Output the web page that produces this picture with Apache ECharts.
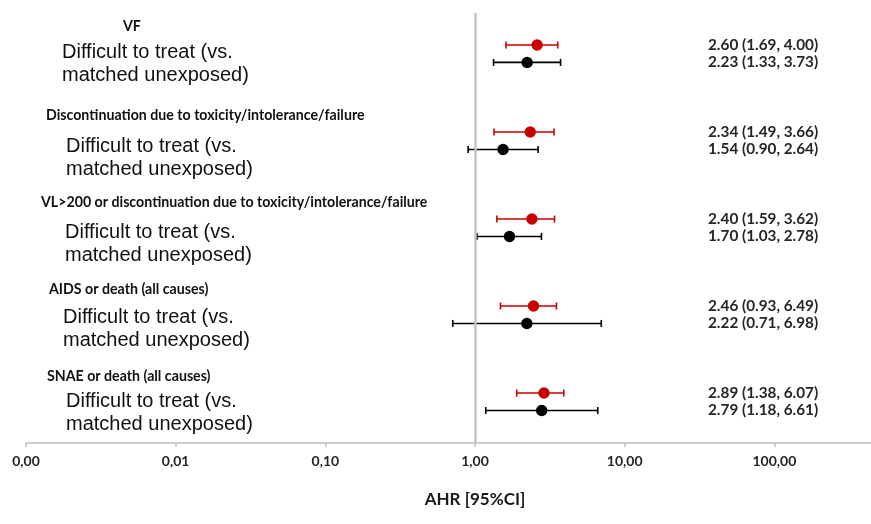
<!DOCTYPE html>
<html>
<head>
<meta charset="utf-8">
<script src="https://cdn.jsdelivr.net/npm/echarts@6/dist/echarts.min.js"></script>
<style>
  html, body { margin: 0; padding: 0; background: #fff; }
  #chart { width: 871px; height: 524px; }
</style>
</head>
<body>
<div id="chart"></div>
<script>
// outcomes, top to bottom
var outcomes = [
  'VF',
  'Discontinuation due to toxicity/intolerance/failure',
  'VL>200 or discontinuation due to toxicity/intolerance/failure',
  'AIDS or death (all causes)',
  'SNAE or death (all causes)'
]
var comparison = 'Difficult to treat (vs.\nmatched unexposed)'

// red rows (upper of each pair) - as drawn
var redHR = [2.60, 2.34, 2.40, 2.46, 2.89]
var redLow = [1.61, 1.34, 1.40, 1.48, 1.90]
var redHigh = [3.57, 3.37, 3.40, 3.50, 3.92]
var redText = ['2.60 (1.69, 4.00)', '2.34 (1.49, 3.66)', '2.40 (1.59, 3.62)', '2.46 (0.93, 6.49)', '2.89 (1.38, 6.07)']

// black rows (lower of each pair)
var blackHR = [2.23, 1.54, 1.70, 2.22, 2.79]
var blackLow = [1.33, 0.90, 1.03, 0.71, 1.18]
var blackHigh = [3.73, 2.64, 2.78, 6.98, 6.61]
var blackText = ['2.23 (1.33, 3.73)', '1.54 (0.90, 2.64)', '1.70 (1.03, 2.78)', '2.22 (0.71, 6.98)', '2.79 (1.18, 6.61)']

var xTicks = [0.001, 0.01, 0.1, 1, 10, 100]

// layout of the left-hand text (pixels)
var headTop = [27, 116, 203, 290, 377]
var headLeft = [123, 46, 41, 49, 47]
var subTop = [52, 146, 232, 317, 401]
var subLeft = [62, 66, 65, 63, 66]

var chart = echarts.init(document.getElementById('chart'), null, { renderer: 'canvas' })

function rows(hr, low, high, offset) {
  return hr.map(function (v, i) {
    return [low[i], high[i], v, i * 5 + offset]
  })
}

function renderBar(color, texts) {
  return function (params, api) {
    var lo = api.coord([api.value(0), api.value(3)])
    var hi = api.coord([api.value(1), api.value(3)])
    var mid = api.coord([api.value(2), api.value(3)])
    var y = mid[1]
    var lineStyle = { stroke: color, lineWidth: 1.6 }
    return {
      type: 'group',
      children: [
        { type: 'line', shape: { x1: lo[0], y1: y, x2: hi[0], y2: y }, style: lineStyle },
        { type: 'line', shape: { x1: lo[0], y1: y - 3.5, x2: lo[0], y2: y + 3.5 }, style: lineStyle },
        { type: 'line', shape: { x1: hi[0], y1: y - 3.5, x2: hi[0], y2: y + 3.5 }, style: lineStyle },
        { type: 'circle', shape: { cx: mid[0], cy: y, r: 5.7 }, style: { fill: color } },
        {
          type: 'text',
          x: 708,
          y: y,
          style: {
            text: texts[params.dataIndex],
            align: 'left', verticalAlign: 'middle',
            textAlign: 'left', textVerticalAlign: 'middle',
            font: 'bold 15.3px Lato',
            fill: '#262626'
          }
        }
      ]
    }
  }
}

var graphics = []
outcomes.forEach(function (name, i) {
  graphics.push({
    type: 'text',
    left: headLeft[i],
    top: headTop[i] - 8,
    style: { text: name, font: 'bold 14.2px Lato', fill: '#111' }
  })
  graphics.push({
    type: 'text',
    left: subLeft[i],
    top: subTop[i] - 11,
    style: { text: comparison, font: '20px "Liberation Sans"', fill: '#111', lineHeight: 23 }
  })
})

var option = {
  backgroundColor: '#fff',
  animation: false,
  grid: { left: 26, right: -53, top: 13, bottom: 81, outerBoundsMode: 'none' },
  xAxis: {
    type: 'log',
    logBase: 10,
    min: 0.001,
    max: 1000,
    name: 'AHR [95%CI]',
    nameLocation: 'middle',
    nameGap: 48,
    nameTextStyle: { fontFamily: 'Lato', fontWeight: 'bold', fontSize: 17, color: '#1a1a1a' },
    axisLine: { onZero: false, lineStyle: { color: '#bfbfbf', width: 1.5 } },
    axisTick: { length: 4, lineStyle: { color: '#bfbfbf', width: 1.5 } },
    axisLabel: {
      margin: 11,
      fontFamily: 'Lato', fontWeight: 'bold', fontSize: 14, color: '#262626',
      formatter: function (v) {
        if (xTicks.indexOf(Number(v.toPrecision(6))) < 0) return ''
        return v.toFixed(2).replace('.', ',')
      }
    },
    splitLine: { show: false }
  },
  yAxis: {
    type: 'value',
    inverse: true,
    min: -1.84,
    max: 22.87,
    show: false
  },
  graphic: graphics,
  series: [
    {
      type: 'custom',
      name: 'red',
      renderItem: renderBar('#c80000', redText),
      encode: { x: [0, 1, 2], y: 3 },
      data: rows(redHR, redLow, redHigh, 0),
      markLine: {
        silent: true,
        symbol: 'none',
        label: { show: false },
        lineStyle: { color: '#c4c4c4', width: 2.5, type: 'solid' },
        data: [{ xAxis: 1 }]
      },
      z: 3
    },
    {
      type: 'custom',
      name: 'black',
      renderItem: renderBar('#000', blackText),
      encode: { x: [0, 1, 2], y: 3 },
      data: rows(blackHR, blackLow, blackHigh, 1),
      z: 3
    }
  ]
}

chart.setOption(option)
</script>
</body>
</html>
